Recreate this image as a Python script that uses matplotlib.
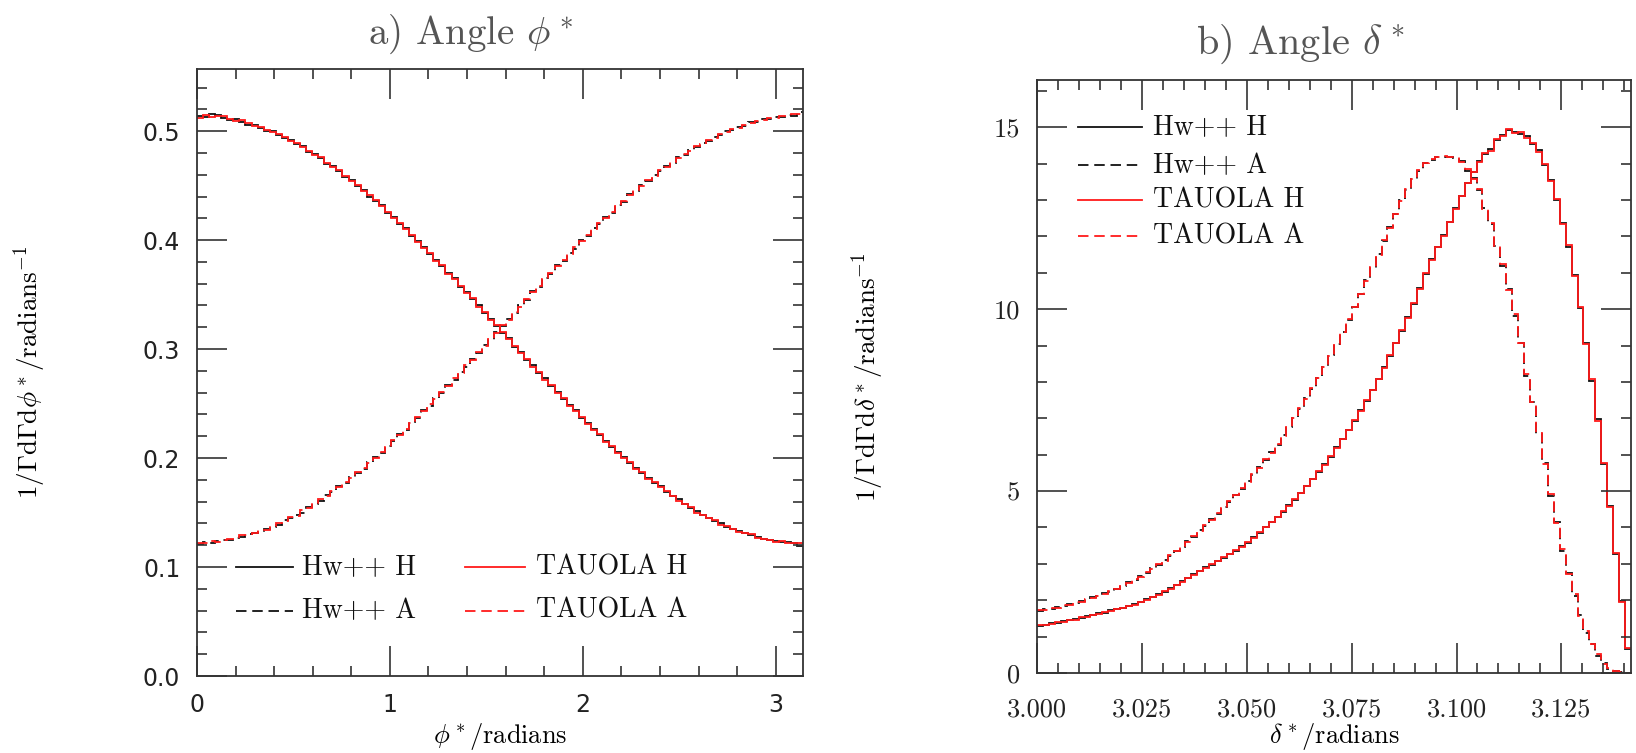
import numpy as np
import matplotlib
matplotlib.use("Agg")
import matplotlib.pyplot as plt
from matplotlib.ticker import MultipleLocator, FormatStrFormatter

plt.rcParams['mathtext.fontset'] = 'cm'
plt.rcParams['axes.unicode_minus'] = False
plt.rcParams['axes.formatter.use_mathtext'] = True

# ---- a) phi* distribution: 100 bins on [0, pi] ----
phi_nbins = 100
phi_range = (0.0, np.pi)

phi_hw_H = [
    0.514, 0.513, 0.516, 0.515, 0.512, 0.510, 0.511, 0.508, 0.506, 0.506,
    0.503, 0.500, 0.500, 0.496, 0.494, 0.492, 0.488, 0.486, 0.481, 0.479,
    0.475, 0.470, 0.468, 0.463, 0.458, 0.455, 0.450, 0.446, 0.440, 0.436,
    0.432, 0.425, 0.421, 0.415, 0.411, 0.404, 0.399, 0.394, 0.387, 0.382,
    0.376, 0.370, 0.365, 0.357, 0.352, 0.346, 0.340, 0.333, 0.328, 0.321,
    0.315, 0.310, 0.302, 0.297, 0.290, 0.285, 0.278, 0.273, 0.266, 0.261,
    0.254, 0.249, 0.244, 0.237, 0.232, 0.227, 0.221, 0.216, 0.210, 0.206,
    0.201, 0.195, 0.191, 0.186, 0.182, 0.177, 0.174, 0.169, 0.165, 0.162,
    0.158, 0.154, 0.151, 0.148, 0.145, 0.142, 0.140, 0.137, 0.135, 0.133,
    0.131, 0.129, 0.128, 0.126, 0.125, 0.124, 0.123, 0.123, 0.122, 0.119,
]
phi_hw_A = [
    0.121, 0.123, 0.122, 0.124, 0.125, 0.125, 0.127, 0.128, 0.130, 0.131,
    0.132, 0.135, 0.137, 0.139, 0.143, 0.145, 0.148, 0.150, 0.155, 0.158,
    0.161, 0.166, 0.169, 0.174, 0.177, 0.183, 0.186, 0.190, 0.196, 0.201,
    0.205, 0.211, 0.216, 0.222, 0.226, 0.233, 0.237, 0.244, 0.248, 0.255,
    0.260, 0.267, 0.272, 0.279, 0.284, 0.291, 0.296, 0.304, 0.308, 0.316,
    0.321, 0.328, 0.333, 0.340, 0.345, 0.353, 0.357, 0.365, 0.369, 0.377,
    0.381, 0.388, 0.392, 0.400, 0.404, 0.411, 0.415, 0.421, 0.425, 0.432,
    0.435, 0.442, 0.445, 0.451, 0.454, 0.460, 0.463, 0.468, 0.471, 0.476,
    0.478, 0.483, 0.485, 0.489, 0.491, 0.495, 0.496, 0.500, 0.501, 0.504,
    0.505, 0.508, 0.508, 0.511, 0.511, 0.513, 0.513, 0.515, 0.514, 0.518,
]
phi_tauola_H = [
    0.512, 0.515, 0.513, 0.514, 0.514, 0.511, 0.509, 0.510, 0.507, 0.505,
    0.504, 0.501, 0.499, 0.497, 0.495, 0.491, 0.489, 0.485, 0.482, 0.478,
    0.476, 0.471, 0.467, 0.464, 0.459, 0.454, 0.451, 0.445, 0.441, 0.437,
    0.431, 0.426, 0.420, 0.416, 0.410, 0.405, 0.398, 0.393, 0.388, 0.381,
    0.377, 0.369, 0.364, 0.358, 0.351, 0.347, 0.339, 0.334, 0.327, 0.322,
    0.316, 0.309, 0.303, 0.296, 0.291, 0.284, 0.279, 0.272, 0.267, 0.260,
    0.255, 0.248, 0.243, 0.238, 0.231, 0.226, 0.222, 0.215, 0.211, 0.205,
    0.200, 0.196, 0.190, 0.187, 0.181, 0.178, 0.173, 0.170, 0.165, 0.161,
    0.158, 0.155, 0.150, 0.148, 0.145, 0.143, 0.139, 0.138, 0.135, 0.132,
    0.131, 0.130, 0.127, 0.126, 0.125, 0.123, 0.124, 0.122, 0.122, 0.122,
]
phi_tauola_A = [
    0.122, 0.122, 0.124, 0.123, 0.125, 0.126, 0.126, 0.129, 0.129, 0.131,
    0.134, 0.134, 0.138, 0.140, 0.142, 0.146, 0.147, 0.152, 0.154, 0.159,
    0.162, 0.165, 0.170, 0.173, 0.178, 0.182, 0.187, 0.191, 0.195, 0.200,
    0.206, 0.210, 0.217, 0.221, 0.227, 0.232, 0.238, 0.243, 0.250, 0.254,
    0.261, 0.266, 0.273, 0.278, 0.285, 0.290, 0.297, 0.303, 0.309, 0.315,
    0.322, 0.327, 0.334, 0.339, 0.346, 0.352, 0.358, 0.364, 0.370, 0.376,
    0.382, 0.387, 0.394, 0.399, 0.405, 0.410, 0.416, 0.420, 0.426, 0.431,
    0.436, 0.441, 0.446, 0.450, 0.455, 0.459, 0.464, 0.467, 0.472, 0.475,
    0.479, 0.482, 0.486, 0.488, 0.492, 0.494, 0.497, 0.499, 0.502, 0.503,
    0.506, 0.507, 0.509, 0.510, 0.512, 0.512, 0.514, 0.514, 0.516, 0.516,
]

# ---- b) delta* distribution: 100 bins on [3.0, pi] ----
delta_nbins = 100
delta_range = (3.0, np.pi)

delta_hw_H = [
    1.29, 1.33, 1.37, 1.38, 1.43, 1.45, 1.49, 1.51, 1.56, 1.59,
    1.64, 1.66, 1.72, 1.75, 1.80, 1.83, 1.90, 1.94, 2.03, 2.08,
    2.17, 2.23, 2.34, 2.41, 2.52, 2.60, 2.71, 2.79, 2.91, 2.98,
    3.09, 3.16, 3.28, 3.36, 3.48, 3.58, 3.73, 3.85, 4.02, 4.14,
    4.30, 4.43, 4.61, 4.76, 4.96, 5.13, 5.34, 5.52, 5.75, 5.95,
    6.20, 6.42, 6.69, 6.93, 7.22, 7.48, 7.79, 8.07, 8.41, 8.72,
    9.08, 9.41, 9.79, 10.15, 10.58, 10.97, 11.38, 11.70, 12.04, 12.39,
    12.78, 13.10, 13.48, 13.76, 14.06, 14.27, 14.40, 14.64, 14.80, 14.92,
    14.87, 14.82, 14.75, 14.53, 14.37, 13.95, 13.56, 12.99, 12.37, 11.72,
    10.95, 10.03, 9.08, 8.03, 6.97, 5.74, 4.59, 3.27, 1.99, 0.66,
]
delta_hw_A = [
    1.71, 1.76, 1.77, 1.82, 1.84, 1.90, 1.92, 1.98, 2.01, 2.08,
    2.11, 2.19, 2.23, 2.32, 2.39, 2.49, 2.56, 2.67, 2.75, 2.88,
    2.97, 3.11, 3.21, 3.36, 3.47, 3.63, 3.75, 3.92, 4.05, 4.23,
    4.37, 4.56, 4.71, 4.90, 5.06, 5.27, 5.44, 5.66, 5.85, 6.08,
    6.28, 6.53, 6.75, 7.02, 7.26, 7.55, 7.81, 8.12, 8.40, 8.73,
    9.03, 9.38, 9.70, 10.07, 10.41, 10.79, 11.13, 11.52, 11.87, 12.26,
    12.61, 12.99, 13.29, 13.59, 13.81, 14.03, 14.10, 14.19, 14.18, 14.19,
    14.16, 14.06, 13.80, 13.60, 13.27, 12.78, 12.33, 11.75, 11.19, 10.55,
    9.82, 9.08, 8.17, 7.46, 6.56, 5.77, 4.87, 4.14, 3.36, 2.75,
    2.12, 1.59, 1.11, 0.81, 0.47, 0.28, 0.12, 0.06, 0.02, 0.00,
]
delta_tauola_H = [
    1.31, 1.32, 1.35, 1.40, 1.41, 1.46, 1.47, 1.53, 1.54, 1.60,
    1.62, 1.68, 1.70, 1.76, 1.78, 1.85, 1.88, 1.96, 2.01, 2.10,
    2.15, 2.25, 2.32, 2.43, 2.50, 2.62, 2.69, 2.81, 2.89, 3.00,
    3.07, 3.18, 3.26, 3.38, 3.46, 3.60, 3.71, 3.87, 4.00, 4.16,
    4.28, 4.45, 4.59, 4.78, 4.94, 5.15, 5.32, 5.54, 5.73, 5.97,
    6.18, 6.44, 6.67, 6.95, 7.20, 7.50, 7.77, 8.09, 8.39, 8.74,
    9.06, 9.43, 9.77, 10.17, 10.56, 10.99, 11.36, 11.72, 12.02, 12.41,
    12.76, 13.12, 13.46, 13.78, 14.04, 14.29, 14.36, 14.68, 14.76, 14.96,
    14.83, 14.86, 14.71, 14.57, 14.33, 13.99, 13.52, 13.03, 12.33, 11.76,
    10.91, 10.07, 9.04, 8.07, 6.93, 5.78, 4.55, 3.31, 1.95, 0.70,
]
delta_tauola_A = [
    1.73, 1.74, 1.79, 1.80, 1.86, 1.88, 1.94, 1.96, 2.03, 2.06,
    2.13, 2.17, 2.25, 2.30, 2.41, 2.47, 2.58, 2.65, 2.77, 2.86,
    2.99, 3.09, 3.23, 3.34, 3.49, 3.61, 3.77, 3.90, 4.07, 4.21,
    4.39, 4.54, 4.73, 4.88, 5.08, 5.25, 5.46, 5.64, 5.87, 6.06,
    6.30, 6.51, 6.77, 7.00, 7.28, 7.53, 7.83, 8.10, 8.42, 8.71,
    9.05, 9.36, 9.72, 10.05, 10.43, 10.77, 11.15, 11.50, 11.89, 12.24,
    12.63, 12.97, 13.31, 13.57, 13.83, 14.01, 14.13, 14.17, 14.22, 14.17,
    14.18, 14.04, 13.84, 13.58, 13.31, 12.76, 12.37, 11.73, 11.23, 10.53,
    9.86, 9.06, 8.21, 7.44, 6.60, 5.75, 4.91, 4.12, 3.40, 2.73,
    2.16, 1.57, 1.15, 0.79, 0.51, 0.26, 0.14, 0.05, 0.02, 0.00,
]

legend_labels = ["Hw++ H", "Hw++ A", "TAUOLA H", "TAUOLA A"]

BLACK = "#111111"
RED = "#ff1a1a"
AXCOL = "#333333"
DASH = (0, (5.8, 3.2))
LW = 1.3
SERIF = "cmr10"

W, H = 1636, 753
fig = plt.figure(figsize=(W / 100, H / 100), dpi=100)


def px_axes(x0, y0, x1, y1):
    return fig.add_axes([x0 / W, 1 - y1 / H, (x1 - x0) / W, (y1 - y0) / H])


axL = px_axes(197, 69, 803, 676)
axR = px_axes(1037, 80, 1631, 673)


def style(ax):
    for s in ax.spines.values():
        s.set_linewidth(1.3)
        s.set_color(AXCOL)
    ax.tick_params(which="both", direction="in", top=True, right=True,
                   color=AXCOL, width=1.2)
    ax.tick_params(which="major", length=21.5)
    ax.tick_params(which="minor", length=7.2)


def draw_hists(ax, edges, hw_H, hw_A, ta_H, ta_A):
    ax.stairs(hw_H, edges, baseline=None, color=BLACK, lw=LW)
    ax.stairs(hw_A, edges, baseline=None, color=BLACK, lw=LW, linestyle=DASH)
    ax.stairs(ta_H, edges, baseline=None, color=RED, lw=LW)
    ax.stairs(ta_A, edges, baseline=None, color=RED, lw=LW, linestyle=DASH)


styles = [(BLACK, "-"), (BLACK, DASH), (RED, "-"), (RED, DASH)]

# ---- left panel ----
phi_edges = np.linspace(phi_range[0], phi_range[1], phi_nbins + 1)
draw_hists(axL, phi_edges, phi_hw_H, phi_hw_A, phi_tauola_H, phi_tauola_A)
axL.set_xlim(*phi_range)
axL.set_ylim(0, 0.557)
axL.xaxis.set_major_locator(MultipleLocator(1))
axL.xaxis.set_minor_locator(MultipleLocator(0.2))
axL.yaxis.set_major_locator(MultipleLocator(0.1))
axL.yaxis.set_minor_locator(MultipleLocator(0.02))
axL.yaxis.set_major_formatter(FormatStrFormatter("%.1f"))
axL.xaxis.set_major_formatter(FormatStrFormatter("%d"))
style(axL)
axL.tick_params(which="major", labelsize=17, pad=12, labelcolor="#222222")
for lab in axL.get_xticklabels() + axL.get_yticklabels():
    lab.set_fontfamily("DejaVu Sans")

# two-column key
leg_rows_L = [0.100, 0.060]
leg_cols_L = [(0.20, 0.50, 0.545), (1.39, 1.70, 1.755)]
for k, (col, ls) in enumerate(styles):
    c = k // 2
    r = k % 2
    x0, x1, xt = leg_cols_L[c]
    y = leg_rows_L[r]
    axL.plot([x0, x1], [y, y], color=col, lw=LW, linestyle=ls)
    axL.text(xt, y, legend_labels[k], fontsize=20, family=SERIF,
             va="center", ha="left", color="#111111")

# ---- right panel ----
delta_edges = np.linspace(delta_range[0], delta_range[1], delta_nbins + 1)
draw_hists(axR, delta_edges, delta_hw_H, delta_hw_A, delta_tauola_H, delta_tauola_A)
axR.set_xlim(*delta_range)
axR.set_ylim(0, 16.3)
axR.xaxis.set_major_locator(MultipleLocator(0.025))
axR.xaxis.set_minor_locator(MultipleLocator(0.005))
axR.yaxis.set_major_locator(MultipleLocator(5))
axR.yaxis.set_minor_locator(MultipleLocator(1))
axR.xaxis.set_major_formatter(FormatStrFormatter("%.3f"))
axR.yaxis.set_major_formatter(FormatStrFormatter("%d"))
style(axR)
axR.tick_params(which="major", labelsize=19, pad=12, labelcolor="#222222")
axR.tick_params(axis="x", which="major", pad=18)
for lab in axR.get_xticklabels() + axR.get_yticklabels():
    lab.set_fontfamily(SERIF)

leg_rows_R = [15.0, 13.95, 13.0, 12.0]
for k, (col, ls) in enumerate(styles):
    y = leg_rows_R[k]
    axR.plot([3.0098, 3.0250], [y, y], color=col, lw=LW, linestyle=ls)
    axR.text(3.0276, y, legend_labels[k], fontsize=20, family=SERIF,
             va="center", ha="left", color="#111111")

# axis titles, placed in figure pixels
def fig_text(x, y, s, **kw):
    fig.text(x / W, 1 - y / H, s, **kw)


fig_text(500, 736, r"$\phi^*/\mathrm{radians}$", fontsize=19,
         ha="center", va="center")
fig_text(1334, 736, r"$\delta^*/\mathrm{radians}$", fontsize=19,
         ha="center", va="center")
fig_text(30, 372, r"$1/\Gamma\mathrm{d}\Gamma\mathrm{d}\phi^*/\mathrm{radians}^{-1}$",
         fontsize=19.5, rotation=90, ha="center", va="center")
fig_text(868, 377, r"$1/\Gamma\mathrm{d}\Gamma\mathrm{d}\delta^*/\mathrm{radians}^{-1}$",
         fontsize=19.5, rotation=90, ha="center", va="center")

# panel titles
fig_text(470, 34, r"a) Angle $\phi^*$", fontsize=28, family=SERIF,
         ha="center", va="center", color="#555555")
fig_text(1300, 44, r"b) Angle $\delta^*$", fontsize=29, family=SERIF,
         ha="center", va="center", color="#555555")

fig.savefig("out.png", dpi=100)
